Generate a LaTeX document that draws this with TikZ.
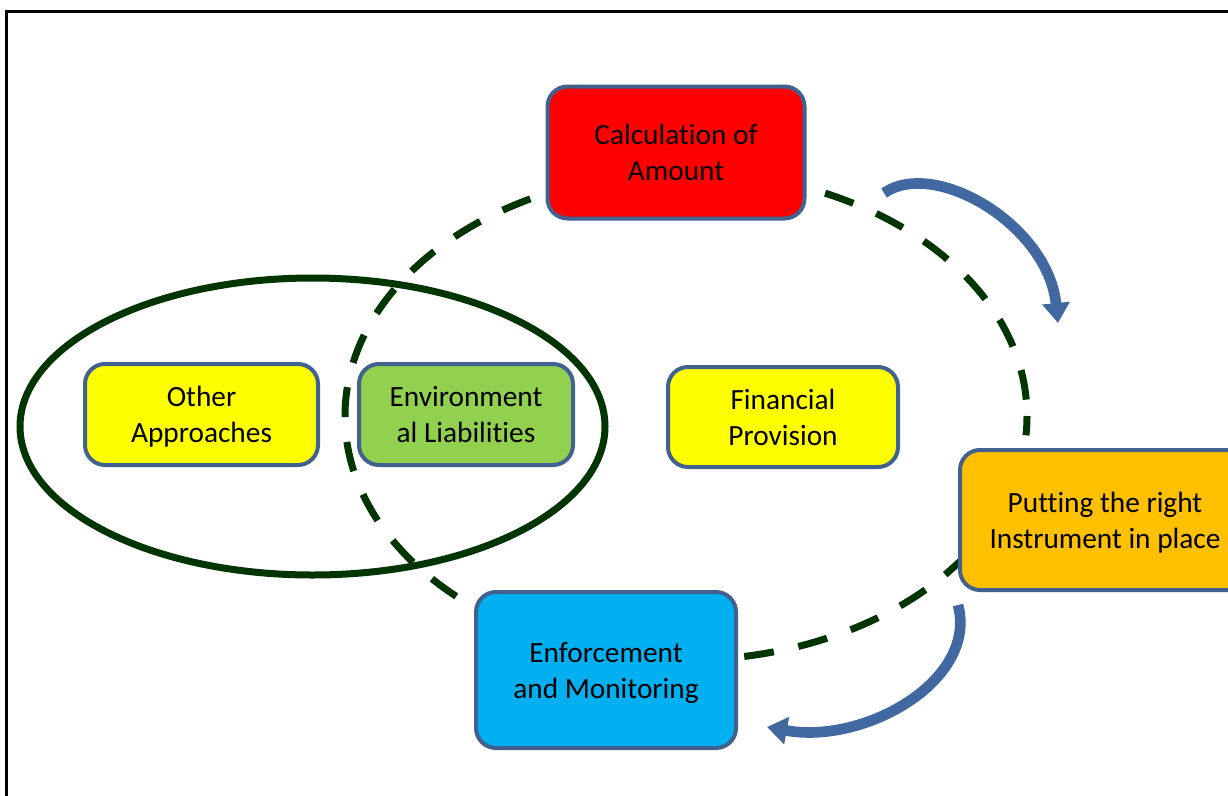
\documentclass[tikz,border=0pt]{standalone}
\usepackage{fontspec}
\setmainfont{Carlito}[RawFeature={-liga;-clig;-calt;-dlig}]
\usetikzlibrary{shapes}
\usetikzlibrary{arrows.meta}
\definecolor{boxedge}{HTML}{41618F}
\definecolor{ringgreen}{HTML}{033503}
\definecolor{arrowblue}{HTML}{4168A0}
\definecolor{calcred}{HTML}{FF0000}
\definecolor{stageyellow}{HTML}{FFFF00}
\definecolor{stagegreen}{HTML}{92D050}
\definecolor{stageorange}{HTML}{FFC000}
\definecolor{stagecyan}{HTML}{00B0F0}
\tikzset{
	boxnode/.style = {
		align=center,
		inner sep=0pt,
		text centered,
		text depth=0pt,
		rounded corners=15pt,
		draw=boxedge,
		line width=3pt,
		font=\fontsize{22}{27}\selectfont
	},
	node_red/.style = {
		boxnode,
		fill=calcred,
		minimum width=192.75pt,
		minimum height=99pt
	},
	node_yellow/.style = {
		boxnode,
		fill=stageyellow,
		minimum width=174.75pt,
		minimum height=75.75pt
	},
	node_yellow_fin/.style = {
		node_yellow,
		minimum width=172.5pt,
		minimum height=75pt
	},
	node_green/.style = {
		boxnode,
		fill=stagegreen,
		minimum width=160.5pt,
		minimum height=75.75pt
	},
	node_orange/.style = {
		boxnode,
		fill=stageorange,
		minimum width=217.5pt,
		minimum height=105pt
	},
	node_cyan/.style = {
		boxnode,
		fill=stagecyan,
		minimum width=195pt,
		minimum height=117pt
	},
	frameline/.style = {
		draw=black,
		line width=2.6pt
	},
	solidring/.style = {
		draw=ringgreen,
		line width=5.25pt
	},
	dashring/.style = {
		draw=ringgreen,
		line width=5.25pt,
		dash pattern=on 22.5pt off 18.75pt,
		dash phase=8pt
	},
	curvearrow/.style = {
		->,
		draw=arrowblue,
		line width=8pt
	},
}

\begin{document}
\begin{tikzpicture}[x=0.75pt, y=-0.75pt, >={Triangle[length=15pt,width=20pt]}]
\useasboundingbox (0,0) rectangle (1228,796);
\draw[frameline] (6.5,11.5) rectangle (1300,900);
% rings
\draw[solidring] (312.5,426.5) ellipse [x radius=292.5, y radius=148.5];
\draw[dashring] (686,416) ellipse [x radius=341, y radius=244];
% stages
\node [node_red] (calc) at (676,152.5) {Calculation of\\Amount};
\node [node_yellow] (other) at (201.5,414.5) {Other\\Approaches};
\node [node_green] (envl) at (466,414.5) {Environment\\al Liabilities};
\node [node_yellow_fin] (fin) at (783,417) {Financial\\Provision};
\node [node_orange] (inst) at (1105,520) {Putting the right\\Instrument in place};
\node [node_cyan] (enf) at (606,670) {Enforcement\\and Monitoring};
% arrows
\coordinate (upper_tail) at (884,193);
\coordinate (upper_tip) at (1058,323);
\coordinate (lower_tail) at (958,605);
\coordinate (lower_tip) at (767,727);
\draw[curvearrow] (upper_tail) .. controls (935,158) and (1048,225) .. (upper_tip);
\draw[curvearrow] (lower_tail) .. controls (978,680) and (865,745) .. (lower_tip);
\end{tikzpicture}
\end{document}
